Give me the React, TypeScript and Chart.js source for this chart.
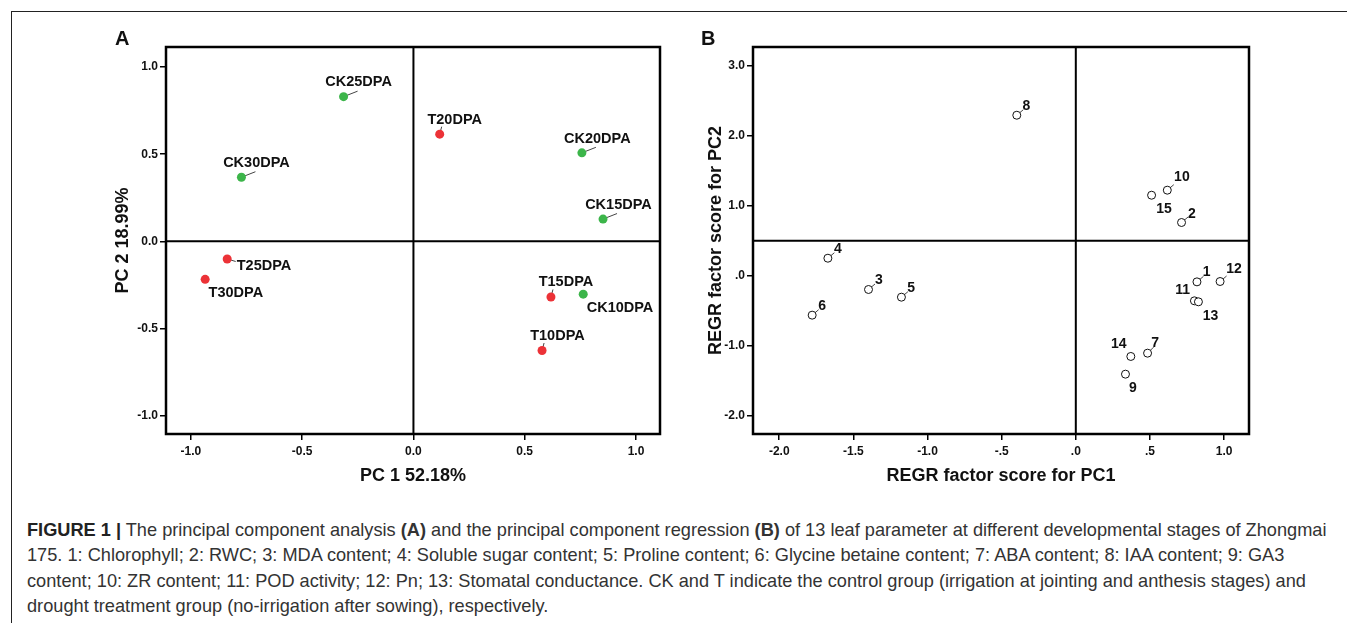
import React, { useEffect, useRef } from "react";
import { Chart } from "chart.js/auto";

// ---------- Panel A data (PCA scores) ----------
const CK_NAMES = ["CK10DPA", "CK15DPA", "CK20DPA", "CK25DPA", "CK30DPA"];
const CK_PC1 = [0.763, 0.852, 0.757, -0.314, -0.773];
const CK_PC2 = [-0.303, 0.128, 0.508, 0.83, 0.368];
const T_NAMES = ["T10DPA", "T15DPA", "T20DPA", "T25DPA", "T30DPA"];
const T_PC1 = [0.578, 0.618, 0.118, -0.837, -0.936];
const T_PC2 = [-0.626, -0.319, 0.615, -0.101, -0.218];
const A_TICKS = [-1.0, -0.5, 0.0, 0.5, 1.0];
const A_TICK_LABELS = ["-1.0", "-0.5", "0.0", "0.5", "1.0"];

// ---------- Panel B data (regression factor scores) ----------
const VAR_IDS = ["1", "2", "3", "4", "5", "6", "7", "8", "9", "10", "11", "12", "13", "14", "15"];
const VAR_PC1 = [0.817, 0.713, -1.398, -1.672, -1.176, -1.778, 0.484, -0.398, 0.335, 0.617, 0.8, 0.973, 0.827, 0.371, 0.511];
const VAR_PC2 = [-0.086, 0.762, -0.195, 0.252, -0.305, -0.562, -1.105, 2.295, -1.405, 1.224, -0.357, -0.081, -0.371, -1.152, 1.152];
const B_X_TICKS = [-2.0, -1.5, -1.0, -0.5, 0.0, 0.5, 1.0];
const B_X_TICK_LABELS = ["-2.0", "-1.5", "-1.0", "-.5", ".0", ".5", "1.0"];
const B_Y_TICKS = [3.0, 2.0, 1.0, 0.0, -1.0, -2.0];
const B_Y_TICK_LABELS = ["3.0", "2.0", "1.0", ".0", "-1.0", "-2.0"];

// ---------- label placement (pixel offsets from marker: dx, dy, leader end or null) ----------
type Place = [number, number, [number, number] | null];
const A_PLACE: Record<string, Place> = {
  CK10DPA: [36.8, 14, null],
  CK15DPA: [15.4, -14, [14, -5.5]],
  CK20DPA: [15.4, -14, [14, -5.5]],
  CK25DPA: [15, -14.7, [14, -5.5]],
  CK30DPA: [15, -14.3, [14, -5.5]],
  T10DPA: [15.4, -14, [2, -7.5]],
  T15DPA: [15, -15, [2, -7.5]],
  T20DPA: [15, -14.3, [2, -7.5]],
  T25DPA: [36.8, 7, [8.5, 2.5]],
  T30DPA: [30.7, 13.7, null],
};
const B_PLACE: Record<string, Place> = {
  "1": [9.6, -9.3, [6.5, -5.5]],
  "2": [10.4, -8.7, [6.5, -5.5]],
  "3": [10.4, -9, [6.5, -5.5]],
  "4": [10, -9, [6.5, -5.5]],
  "5": [9.6, -9, [6.5, -5.5]],
  "6": [10, -9, [6.5, -5.5]],
  "7": [7.5, -9.7, [6, -6]],
  "8": [9.6, -9, [6.5, -5.5]],
  "9": [7.5, 13.7, null],
  "10": [14.6, -12.7, [6.5, -5.5]],
  "11": [-11.8, -11, null],
  "12": [14, -12, [6.5, -5.5]],
  "13": [12, 14, null],
  "14": [-12, -12, null],
  "15": [12.5, 14, null],
};

const FONT = '"Liberation Sans", Arial, Helvetica, sans-serif';

function makePlugin(refX: number, refY: number, place: Record<string, Place>, labelSize: number) {
  return {
    id: "frameLabels",
    beforeDatasetsDraw(chart: any) {
      const { ctx, chartArea: a, scales } = chart;
      const x0 = scales.x.getPixelForValue(refX);
      const y0 = scales.y.getPixelForValue(refY);
      ctx.save();
      ctx.strokeStyle = "#000";
      ctx.lineWidth = 2;
      ctx.beginPath();
      ctx.moveTo(a.left, y0);
      ctx.lineTo(a.right, y0);
      ctx.moveTo(x0, a.top);
      ctx.lineTo(x0, a.bottom);
      ctx.stroke();
      ctx.lineWidth = 1;
      ctx.strokeStyle = "#444";
      chart.data.datasets.forEach((ds: any, di: number) => {
        const meta = chart.getDatasetMeta(di);
        meta.data.forEach((el: any, i: number) => {
          const p = place[ds.data[i].name];
          if (!p || !p[2]) return;
          ctx.beginPath();
          ctx.moveTo(el.x, el.y);
          ctx.lineTo(el.x + p[2][0], el.y + p[2][1]);
          ctx.stroke();
        });
      });
      ctx.restore();
    },
    afterDatasetsDraw(chart: any) {
      const { ctx, chartArea: a } = chart;
      ctx.save();
      ctx.fillStyle = "#111";
      ctx.font = `bold ${labelSize}px ${FONT}`;
      ctx.textAlign = "center";
      ctx.textBaseline = "middle";
      chart.data.datasets.forEach((ds: any, di: number) => {
        const meta = chart.getDatasetMeta(di);
        meta.data.forEach((el: any, i: number) => {
          const name = ds.data[i].name;
          const p = place[name];
          ctx.fillText(name, el.x + p[0], el.y + p[1]);
        });
      });
      ctx.strokeStyle = "#000";
      ctx.lineWidth = 2.5;
      ctx.strokeRect(a.left, a.top, a.right - a.left, a.bottom - a.top);
      ctx.restore();
    },
  };
}

function axis(
  min: number,
  max: number,
  ticks: number[],
  labels: string[],
  title: string,
  isY: boolean,
  fitSize: number,
  titlePad: number
) {
  return {
    type: "linear",
    min,
    max,
    position: isY ? "left" : "bottom",
    afterBuildTicks: (s: any) => {
      s.ticks = ticks.map((v) => ({ value: v }));
    },
    afterFit: (s: any) => {
      if (isY) s.width = fitSize;
      else s.height = fitSize;
    },
    grid: { drawOnChartArea: false, drawTicks: true, tickLength: 6, color: "#000", lineWidth: 1.5 },
    border: { display: false },
    ticks: {
      color: "#111",
      padding: isY ? 2 : 4,
      font: { family: FONT, size: 12, weight: "bold" },
      maxRotation: 0,
      autoSkip: false,
      callback: (v: number) => {
        const i = ticks.findIndex((t) => Math.abs(t - v) < 1e-9);
        return i >= 0 ? labels[i] : "";
      },
    },
    title: {
      display: true,
      text: title,
      color: "#111",
      font: { family: FONT, size: 18, weight: "bold" },
      padding: isY ? { top: titlePad, bottom: 0 } : { top: 0, bottom: titlePad },
    },
  };
}

function ChartA() {
  const ref = useRef<HTMLCanvasElement>(null);
  useEffect(() => {
    const chart = new Chart(ref.current!, {
      type: "scatter",
      data: {
        datasets: [
          {
            label: "CK",
            data: CK_NAMES.map((n, i) => ({ x: CK_PC1[i], y: CK_PC2[i], name: n })),
            pointRadius: 4.5,
            pointBackgroundColor: "#3cb54a",
            pointBorderWidth: 0,
          },
          {
            label: "T",
            data: T_NAMES.map((n, i) => ({ x: T_PC1[i], y: T_PC2[i], name: n })),
            pointRadius: 4.5,
            pointBackgroundColor: "#ec3237",
            pointBorderWidth: 0,
          },
        ],
      } as any,
      options: {
        responsive: false,
        animation: false,
        layout: { padding: { top: 47, right: 30, bottom: 6, left: 0 } },
        plugins: { legend: { display: false }, tooltip: { enabled: false } },
        scales: {
          x: axis(-1.112, 1.108, A_TICKS, A_TICK_LABELS, "PC 1 52.18%", false, 60, 7.2),
          y: axis(-1.105, 1.115, A_TICKS, A_TICK_LABELS, "PC 2 18.99%", true, 166, 112.2),
        } as any,
      },
      plugins: [makePlugin(0, 0, A_PLACE, 14.5)],
    });
    return () => chart.destroy();
  }, []);
  return <canvas ref={ref} width={690} height={500} style={{ position: "absolute", left: 0, top: 0 }} />;
}

function ChartB() {
  const ref = useRef<HTMLCanvasElement>(null);
  useEffect(() => {
    const chart = new Chart(ref.current!, {
      type: "scatter",
      data: {
        datasets: [
          {
            label: "vars",
            data: VAR_IDS.map((n, i) => ({ x: VAR_PC1[i], y: VAR_PC2[i], name: n })),
            pointRadius: 4,
            pointBackgroundColor: "#fff",
            pointBorderColor: "#111",
            pointBorderWidth: 1,
          },
        ],
      } as any,
      options: {
        responsive: false,
        animation: false,
        layout: { padding: { top: 47, right: 98, bottom: 6, left: 0 } },
        plugins: { legend: { display: false }, tooltip: { enabled: false } },
        scales: {
          x: axis(-2.177, 1.168, B_X_TICKS, B_X_TICK_LABELS, "REGR factor score for PC1", false, 60, 7.2),
          y: axis(-2.26, 3.27, B_Y_TICKS, B_Y_TICK_LABELS, "REGR factor score for PC2", true, 63, 15.2),
        } as any,
      },
      plugins: [makePlugin(0, 0.5, B_PLACE, 14)],
    });
    return () => chart.destroy();
  }, []);
  return <canvas ref={ref} width={657} height={500} style={{ position: "absolute", left: 690, top: 0 }} />;
}

export default function App() {
  const letter: React.CSSProperties = {
    position: "absolute",
    top: 27,
    fontFamily: FONT,
    fontWeight: "bold",
    fontSize: 20,
    lineHeight: "22px",
    color: "#111",
  };
  return (
    <div style={{ position: "fixed", left: 0, top: 0, width: 1347, height: 623, background: "#fff", overflow: "hidden" }}>
      <div style={{ position: "absolute", left: 11, top: 11, width: 1400, height: 700, borderTop: "1px solid #222", borderLeft: "1px solid #222" }} />
      <ChartA />
      <ChartB />
      <div style={{ ...letter, left: 115 }}>A</div>
      <div style={{ ...letter, left: 701 }}>B</div>
      <div
        style={{
          position: "absolute",
          left: 27,
          top: 518,
          fontFamily: FONT,
          fontSize: 18.2,
          lineHeight: "25.3px",
          color: "#333",
          whiteSpace: "nowrap",
        }}
      >
        <b style={{ color: "#222" }}>FIGURE 1 |</b> The principal component analysis <b>(A)</b> and the principal component regression <b>(B)</b> of 13 leaf parameter at different developmental stages of Zhongmai
        <br />
        175. 1: Chlorophyll; 2: RWC; 3: MDA content; 4: Soluble sugar content; 5: Proline content; 6: Glycine betaine content; 7: ABA content; 8: IAA content; 9: GA3
        <br />
        content; 10: ZR content; 11: POD activity; 12: Pn; 13: Stomatal conductance. CK and T indicate the control group (irrigation at jointing and anthesis stages) and
        <br />
        drought treatment group (no-irrigation after sowing), respectively.
      </div>
    </div>
  );
}
